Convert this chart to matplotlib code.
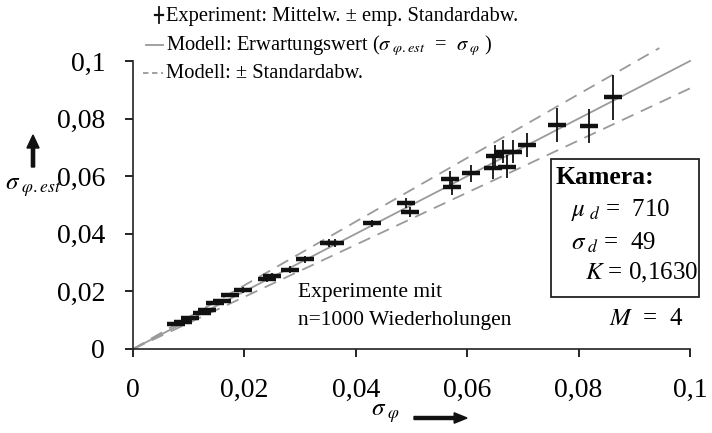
import matplotlib
matplotlib.use("Agg")
import matplotlib.pyplot as plt
from matplotlib.lines import Line2D
from matplotlib.patches import Rectangle, FancyArrow

plt.rcParams["font.family"] = ["Liberation Serif", "DejaVu Serif"]
plt.rcParams["mathtext.fontset"] = "stix"

# Messwerte: sigma_phi (x), geschaetztes sigma (y), emp. Standardabw. (yerr)
sigma_phi = [0.0078, 0.0090, 0.0102, 0.0123, 0.0132, 0.0147, 0.0159, 0.0174, 0.0198, 0.0240,
             0.0250, 0.0281, 0.0309, 0.0352, 0.0362, 0.0429, 0.0491, 0.0497, 0.0569, 0.0572,
             0.0606, 0.0646, 0.0650, 0.0664, 0.0671, 0.0682, 0.0707, 0.0761, 0.0818, 0.0862]
sigma_est = [0.0087, 0.0095, 0.0108, 0.0125, 0.0135, 0.0160, 0.0168, 0.0188, 0.0205, 0.0242,
             0.0253, 0.0276, 0.0312, 0.0368, 0.0368, 0.0436, 0.0508, 0.0477, 0.0589, 0.0564,
             0.0610, 0.0627, 0.0670, 0.0685, 0.0633, 0.0685, 0.0708, 0.0778, 0.0774, 0.0874]
sigma_err = [0.0004, 0.0005, 0.0005, 0.0006, 0.0006, 0.0007, 0.0007, 0.0008, 0.0009, 0.0010,
             0.0010, 0.0011, 0.0012, 0.0014, 0.0014, 0.0012, 0.0018, 0.0017, 0.0028, 0.0028,
             0.0030, 0.0035, 0.0038, 0.0040, 0.0040, 0.0040, 0.0042, 0.0060, 0.0060, 0.0078]

# Modell: Erwartungswert und +/- Standardabw.
modell_x = [0.0, 0.1]
modell_y = [0.0, 0.1]
oben_x = [0.0, 0.0945]
oben_y = [0.0, 0.1045]
unten_x = [0.0, 0.1]
unten_y = [0.0, 0.0905]

ticks = [0, 0.02, 0.04, 0.06, 0.08, 0.1]
tick_labels = ["0", "0,02", "0,04", "0,06", "0,08", "0,1"]

fig = plt.figure(figsize=(7.12, 4.33), dpi=100)
ax = fig.add_axes([133/712, 84/433, 557/712, 288/433])

grau = "#9a9a9a"
ax.plot(modell_x, modell_y, color=grau, lw=1.3, clip_on=False)
ax.plot(oben_x, oben_y, color=grau, lw=1.3, ls=(0, (7, 4.5)), clip_on=False)
ax.plot(unten_x, unten_y, color=grau, lw=1.3, ls=(0, (7, 4.5)), clip_on=False)

ax.errorbar(sigma_phi, sigma_est, yerr=sigma_err, fmt="_", color="#111111",
            ms=13, mew=3.2, elinewidth=1.3, capsize=0, zorder=3)

ax.set_xlim(0, 0.1)
ax.set_ylim(0, 0.1)
ax.set_xticks(ticks)
ax.set_xticklabels(tick_labels)
ax.set_yticks(ticks)
ax.set_yticklabels(tick_labels)
ax.tick_params(axis="x", direction="out", length=6, width=1.2, pad=15, labelsize=20)
ax.tick_params(axis="y", direction="out", length=6, width=1.2, pad=14, labelsize=20)
for s in ["top", "right"]:
    ax.spines[s].set_visible(False)
for s in ["left", "bottom"]:
    ax.spines[s].set_linewidth(1.2)
    ax.spines[s].set_color("#222222")

# Legende oben
fs = 14.8
fig.add_artist(Line2D([159/712, 159/712], [1 - 7/433, 1 - 23/433], color="#111111", lw=1.3))
fig.add_artist(Line2D([155/712, 163/712], [1 - 15/433, 1 - 15/433], color="#111111", lw=1.6))
fig.text(166/712, 1 - 16/433, "Experiment: Mittelw. ± emp. Standardabw.", fontsize=fs, va="center")
fig.add_artist(Line2D([146/712, 163/712], [1 - 45/433, 1 - 45/433], color=grau, lw=1.3))
fig.text(166/712, 1 - 46/433,
         "Modell: Erwartungswert ($\\sigma_{\\ \\varphi .est}$  =  $\\sigma_{\\ \\varphi}$ )",
         fontsize=fs, va="center")
fig.add_artist(Line2D([143/712, 163/712], [1 - 73/433, 1 - 73/433], color=grau, lw=1.3,
                      ls=(0, (3, 2))))
fig.text(166/712, 1 - 74/433, "Modell: ± Standardabw.", fontsize=fs, va="center")

# Achsenbeschriftungen mit Pfeilen
fig.add_artist(FancyArrow(33/712, 1 - 167/433, 0, 32/433, width=0.0045, head_width=0.017,
                          head_length=0.03, color="#111111", length_includes_head=True))
fig.text(33/712, 1 - 188/433, "$\\sigma_{\\ \\varphi .est}$", fontsize=18, ha="center", va="center")
fig.text(385/712, 1 - 414/433, "$\\sigma_{\\ \\varphi}$", fontsize=18, ha="center", va="center")
fig.add_artist(FancyArrow(414/712, 1 - 418/433, 53/712, 0, width=0.007, head_width=0.024,
                          head_length=0.018, color="#111111", length_includes_head=True))

# Hinweis
fig.text(298/712, 1 - 292/433, "Experimente mit", fontsize=15.5, va="center")
fig.text(298/712, 1 - 321/433, "n=1000 Wiederholungen", fontsize=15.5, va="center")

# Kamera-Box
fig.add_artist(Rectangle((551/712, 1 - 297/433), 148/712, 138/433, fill=False,
                         edgecolor="#222222", lw=1.3))
fig.text(556/712, 1 - 177/433, "Kamera:", fontsize=18.5, fontweight="bold", va="center")
fig.text(571/712, 1 - 210/433, "$\\mu_{\\ d}$ =  710", fontsize=18, va="center")
fig.text(571/712, 1 - 243/433, "$\\sigma_{\\ d}$ =  49", fontsize=18, va="center")
fig.text(585/712, 1 - 273/433, "$K$ = 0,1630", fontsize=18, va="center")
fig.text(609/712, 1 - 319/433, "$M$  =  4", fontsize=18, va="center")

fig.savefig("out.png", dpi=100)
